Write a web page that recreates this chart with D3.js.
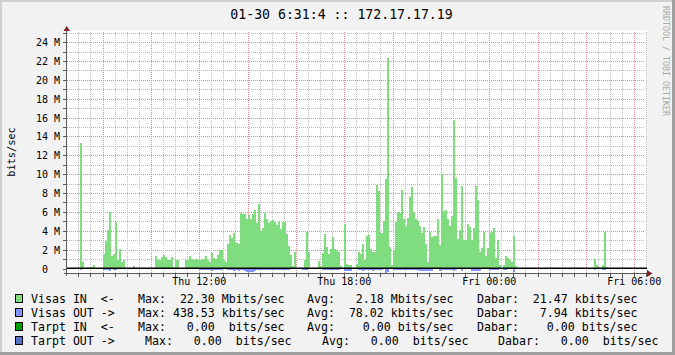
<!DOCTYPE html>
<html>
<head>
<meta charset="utf-8">
<script src="https://cdn.jsdelivr.net/npm/d3@7"></script>
<style>
  body { margin: 0; background: #fff; }
  text { font-family: "DejaVu Sans Mono", monospace; fill: #000; }
</style>
</head>
<body>
<div id="chart"></div>
<script>
// chart data
const title = '01-30 6:31:4 :: 172.17.17.19';
const startTime = new Date(2020, 0, 30, 6, 31, 40);
const endTime = new Date(2020, 0, 31, 6, 31, 40);
const firstSample = new Date(2020, 0, 30, 6, 35, 0);
const stepMinutes = 5;
const yLabelTicks = [0, 2, 4, 6, 8, 10, 12, 14, 16, 18, 20, 22, 24];
const xLabelHours = 6;

// Visas IN, Mbits/sec, one value per 5 minutes
const visasIn = [
  0, 0, 0, 0, 0, 0, 13.3, 0.74, 0, 0, 0, 0.2,
  0.42, 0.1, 0, 0, 0, 1.5, 2.9, 4.1, 6.0, 1.3, 1.5, 4.9,
  0.95, 2.1, 0.64, 0.85, 0, 0, 0, 0, 0.3, 0, 0, 0,
  0, 0, 0, 0, 0, 0, 0, 1.3, 0.85, 0.95, 1.2, 1.4,
  1.2, 0.85, 0.85, 1.2, 0.2, 0.85, 0.95, 0, 0, 0, 0.95, 0.95,
  1.3, 1.05, 0.95, 1.05, 0.95, 0.95, 1.05, 1.05, 1.3, 0.95, 0.64, 1.6,
  1.15, 1.05, 1.4, 2.0, 2.0, 0.95, 0.64, 2.65, 3.6, 3.2, 3.8, 2.75,
  2.55, 5.9, 5.8, 5.8, 5.3, 5.7, 5.3, 5.8, 6.25, 4.8, 6.8, 4.0,
  4.25, 5.9, 5.3, 4.8, 5.0, 5.1, 4.9, 4.65, 4.9, 4.15, 4.9, 4.9,
  3.7, 2.35, 1.4, 0.3, 1.7, 0, 0, 0, 0, 0.95, 3.9, 1.8,
  0, 0, 0, 0, 0.8, 0.3, 1.6, 3.7, 2.3, 1.5, 2.1, 3.3,
  2.1, 2.0, 1.7, 0.3, 0, 4.7, 0.5, 0.4, 0.4, 0, 0, 0.5,
  1.8, 1.5, 2.55, 0.85, 3.4, 3.6, 2.1, 1.7, 1.7, 8.9, 8.2, 3.8,
  5.0, 9.45, 22.3, 2.3, 0.4, 2.0, 4.9, 5.95, 5.85, 8.3, 5.2, 4.55,
  5.4, 7.55, 8.6, 5.85, 5.2, 5.0, 4.55, 3.8, 4.35, 2.55, 0.65, 3.9,
  3.3, 3.4, 3.4, 5.3, 2.45, 10.0, 6.05, 6.25, 5.3, 4.55, 5.6, 15.7,
  9.55, 3.1, 4.05, 8.7, 3.0, 3.0, 4.7, 4.35, 3.0, 4.25, 8.7, 7.3,
  1.8, 2.2, 3.9, 1.3, 2.2, 3.8, 3.9, 4.25, 1.15, 3.0, 0.4, 0,
  0.4, 1.3, 1.15, 0.85, 0.65, 3.4, 0.3, 0, 0, 0, 0, 0,
  0, 0, 0, 0, 0, 0, 0, 0, 0, 0, 0, 0,
  0, 0, 0, 0, 0, 0, 0, 0, 0, 0, 0, 0,
  0, 0, 0, 0, 0, 0, 0, 0, 0, 1.0, 0.4, 0.2,
  0, 0.4, 3.9, 0.2, 0, 0, 0, 0, 0, 0, 0, 0,
  0, 0, 0, 0, 0, 0, 0, 0, 0, 0, 0, 0
];

// Visas OUT, Mbits/sec, drawn below zero
const visasOut = [
  0, 0, 0, 0, 0, 0, 0.18, 0, 0, 0, 0, 0,
  0, 0, 0, 0, 0, 0.18, 0.18, 0.18, 0.27, 0, 0.18, 0.18,
  0, 0, 0, 0, 0, 0, 0, 0, 0, 0, 0, 0,
  0, 0, 0, 0, 0, 0, 0, 0, 0, 0, 0, 0,
  0, 0, 0, 0, 0, 0, 0, 0, 0, 0, 0, 0,
  0, 0, 0, 0, 0, 0.18, 0.18, 0.18, 0.18, 0.18, 0.18, 0.27,
  0.18, 0.18, 0.18, 0.18, 0.18, 0, 0, 0.18, 0.18, 0.18, 0.27, 0.18,
  0.27, 0.18, 0.18, 0.27, 0.36, 0.32, 0.36, 0.32, 0.27, 0.18, 0.18, 0.18,
  0.18, 0.18, 0.18, 0.18, 0.18, 0.18, 0.18, 0.18, 0.18, 0.18, 0.18, 0.18,
  0.18, 0.18, 0, 0, 0, 0, 0, 0, 0.18, 0.18, 0.18, 0,
  0, 0, 0, 0, 0, 0, 0.18, 0.18, 0.18, 0.18, 0.18, 0.18,
  0.18, 0.18, 0.18, 0, 0, 0.27, 0.27, 0.27, 0.27, 0, 0, 0,
  0.18, 0.18, 0.27, 0.18, 0.18, 0.18, 0.18, 0.27, 0.18, 0.18, 0.18, 0.18,
  0, 0.44, 0.36, 0, 0, 0.18, 0.18, 0.18, 0.18, 0.18, 0.18, 0.18,
  0.18, 0.18, 0.18, 0.18, 0.18, 0.18, 0.27, 0.27, 0.22, 0.22, 0.22, 0.22,
  0.22, 0, 0, 0, 0.27, 0.18, 0.18, 0.18, 0.18, 0.18, 0.18, 0.27,
  0.18, 0, 0, 0.27, 0, 0, 0, 0, 0.27, 0.27, 0.27, 0.27,
  0.27, 0, 0, 0, 0, 0.18, 0.18, 0.18, 0.18, 0.18, 0, 0,
  0.18, 0.18, 0, 0, 0, 0.42, 0, 0, 0, 0, 0, 0,
  0, 0, 0, 0, 0, 0, 0, 0, 0, 0, 0, 0,
  0, 0, 0, 0, 0, 0, 0, 0, 0, 0, 0, 0,
  0, 0, 0, 0, 0, 0, 0, 0, 0, 0.18, 0, 0,
  0, 0.18, 0.18, 0, 0, 0, 0, 0, 0, 0, 0, 0,
  0, 0, 0, 0, 0, 0, 0, 0, 0, 0, 0, 0
];

const legendNames = ['Visas IN  <-', 'Visas OUT ->', 'Tarpt IN  <-', 'Tarpt OUT ->'];
const legendColors = ['#7fdd7f', '#8393ff', '#00a000', '#5572c8'];
const legendMax = ['Max:  22.30 Mbits/sec', 'Max: 438.53 kbits/sec', 'Max:   0.00  bits/sec', 'Max:   0.00  bits/sec'];
const legendAvg = ['Avg:   2.18 Mbits/sec', 'Avg:  78.02 kbits/sec', 'Avg:    0.00 bits/sec', 'Avg:   0.00  bits/sec'];
const legendDabar = ['Dabar:  21.47 kbits/sec', 'Dabar:   7.94 kbits/sec', 'Dabar:    0.00 bits/sec', 'Dabar:   0.00  bits/sec'];

const width = 675;
const height = 355;
const plot = { left: 67, right: 647, top: 32, bottom: 273 };

const svg = d3.select('#chart').append('svg')
  .attr('width', width)
  .attr('height', height);

// frame
svg.append('rect').attr('width', width).attr('height', height).attr('fill', '#f2f2f2');
svg.append('path').attr('d', 'M1,' + height + 'V1H' + width).attr('stroke', '#cfcfcf').attr('stroke-width', 2).attr('fill', 'none');
svg.append('path').attr('d', 'M0,' + (height - 1.5) + 'H' + (width - 1.5) + 'V0').attr('stroke', '#9e9e9e').attr('stroke-width', 3).attr('fill', 'none');

const x = d3.scaleTime().domain([startTime, endTime]).range([plot.left, plot.right]);
const y = d3.scaleLinear().domain([-0.477, 25.07]).range([plot.bottom, plot.top]);

svg.append('rect')
  .attr('x', plot.left).attr('y', plot.top - 2)
  .attr('width', plot.right - plot.left).attr('height', plot.bottom - plot.top + 2)
  .attr('fill', '#fff');

const grid = svg.append('g').attr('shape-rendering', 'crispEdges');
const crisp = v => Math.round(v) + 0.5;
const minorColor = '#bdbdbd';
const majorColor = '#e48a8a';

// horizontal grid, 1M minor, 2M major
const yMinor = d3.range(1, 26).filter(d => d % 2 !== 0);
const yMajor = d3.range(2, 25, 2);
grid.selectAll('.hmin').data(yMinor).enter().append('line')
  .attr('x1', plot.left).attr('x2', plot.right - 2)
  .attr('y1', d => crisp(y(d))).attr('y2', d => crisp(y(d)))
  .attr('stroke', minorColor).attr('stroke-dasharray', '1,1');
grid.selectAll('.hmaj').data(yMajor).enter().append('line')
  .attr('x1', plot.left).attr('x2', plot.right - 2)
  .attr('y1', d => crisp(y(d))).attr('y2', d => crisp(y(d)))
  .attr('stroke', majorColor).attr('stroke-dasharray', '1,1');

// vertical grid, 30 min minor, 2 h major
const vMinor = d3.timeMinute.every(30).range(startTime, endTime).filter(t => t.getMinutes() !== 0 || t.getHours() % 2 !== 0);
const vMajor = d3.timeHour.every(2).range(startTime, endTime);
grid.selectAll('.vmin').data(vMinor).enter().append('line')
  .attr('x1', d => crisp(x(d))).attr('x2', d => crisp(x(d)))
  .attr('y1', plot.top).attr('y2', plot.bottom)
  .attr('stroke', minorColor).attr('stroke-dasharray', '1,1');
grid.selectAll('.vmaj').data(vMajor).enter().append('line')
  .attr('x1', d => crisp(x(d))).attr('x2', d => crisp(x(d)))
  .attr('y1', plot.top).attr('y2', plot.bottom)
  .attr('stroke', majorColor).attr('stroke-dasharray', '1,1');

// bars, one per 5-minute sample
const sampleTime = i => d3.timeMinute.offset(firstSample, i * stepMinutes);
const inData = visasIn.map((v, i) => ({ v, i })).filter(d => d.v > 0);
const outData = visasOut.map((v, i) => ({ v, i })).filter(d => d.v > 0);
const bars = svg.append('g').attr('shape-rendering', 'crispEdges');
bars.selectAll('.in').data(inData).enter().append('rect')
  .attr('x', d => x(sampleTime(d.i)))
  .attr('width', d => x(sampleTime(d.i + 1)) - x(sampleTime(d.i)))
  .attr('y', d => y(d.v))
  .attr('height', d => y(0) - y(d.v))
  .attr('fill', legendColors[0]);
bars.selectAll('.out').data(outData).enter().append('rect')
  .attr('x', d => x(sampleTime(d.i)))
  .attr('width', d => x(sampleTime(d.i + 1)) - x(sampleTime(d.i)))
  .attr('y', y(0))
  .attr('height', d => y(-d.v) - y(0))
  .attr('fill', legendColors[1]);

// zero rule
svg.append('line')
  .attr('x1', plot.left).attr('x2', plot.right)
  .attr('y1', y(0) - 0.25).attr('y2', y(0) - 0.25)
  .attr('stroke', '#000').attr('stroke-width', 1.5);

// axes
const axisColor = '#5a5a5a';
const arrowColor = '#801f1f';
svg.append('line').attr('x1', 66.5).attr('x2', 66.5).attr('y1', plot.bottom + 3).attr('y2', plot.top - 3)
  .attr('stroke', axisColor);
svg.append('line').attr('x1', plot.left - 3).attr('x2', plot.right + 1).attr('y1', 273.5).attr('y2', 273.5)
  .attr('stroke', axisColor);
svg.append('path').attr('d', 'M63.5,31L70,31L66.75,26Z').attr('fill', arrowColor);
svg.append('path').attr('d', 'M647,270L647,277L652.5,273.5Z').attr('fill', arrowColor);

// y ticks
svg.append('g').selectAll('line').data(d3.range(0, 26)).enter().append('line')
  .attr('x1', 63).attr('x2', 66)
  .attr('y1', d => crisp(y(d))).attr('y2', d => crisp(y(d)))
  .attr('stroke', axisColor).attr('shape-rendering', 'crispEdges');
// x ticks
svg.append('g').selectAll('line').data(vMinor.concat(vMajor)).enter().append('line')
  .attr('x1', d => crisp(x(d))).attr('x2', d => crisp(x(d)))
  .attr('y1', 274).attr('y2', 277)
  .attr('stroke', axisColor).attr('shape-rendering', 'crispEdges');

// y labels
svg.append('g').selectAll('text').data(yLabelTicks).enter().append('text')
  .attr('x', d => d === 0 ? 48 : 60)
  .attr('y', d => crisp(y(d)) + 3.5)
  .attr('text-anchor', 'end')
  .style('font-size', '10px')
  .text(d => d === 0 ? '0' : d + ' M');

// x labels
const fmt = d3.timeFormat('%a %H:%M');
svg.append('g').selectAll('text').data(d3.timeHour.every(xLabelHours).range(startTime, endTime)).enter().append('text')
  .attr('x', d => x(d))
  .attr('y', 285)
  .attr('text-anchor', 'middle')
  .style('font-size', '10px')
  .text(d => fmt(d));

// titles
svg.append('text').attr('x', 341.5).attr('y', 18.5).attr('text-anchor', 'middle')
  .style('font-size', '13.2px').text(title);
svg.append('text').attr('transform', 'translate(14.5,152) rotate(-90)').attr('text-anchor', 'middle')
  .style('font-size', '10.3px').text('bits/sec');
svg.append('text').attr('transform', 'translate(663,6) rotate(90)')
  .style('font-size', '8.3px').style('fill', '#a8a8a8').text('RRDTOOL / TOBI OETIKER');

// legend
const legendX = [
  [31, 138, 307, 477],
  [31, 138, 307, 477],
  [31, 138, 307, 477],
  [31, 145, 322, 498]
];
const legend = svg.append('g').style('font-size', '11.6px');
legendNames.forEach((name, i) => {
  const base = 303 + i * 14;
  legend.append('rect')
    .attr('x', 15.5).attr('y', base - 8.5).attr('width', 7).attr('height', 8)
    .attr('fill', legendColors[i]).attr('stroke', '#000').attr('stroke-width', 1);
  [name, legendMax[i], legendAvg[i], legendDabar[i]].forEach((s, j) => {
    legend.append('text')
      .attr('x', legendX[i][j]).attr('y', base)
      .attr('xml:space', 'preserve').style('white-space', 'pre')
      .text(s);
  });
});
</script>
</body>
</html>
